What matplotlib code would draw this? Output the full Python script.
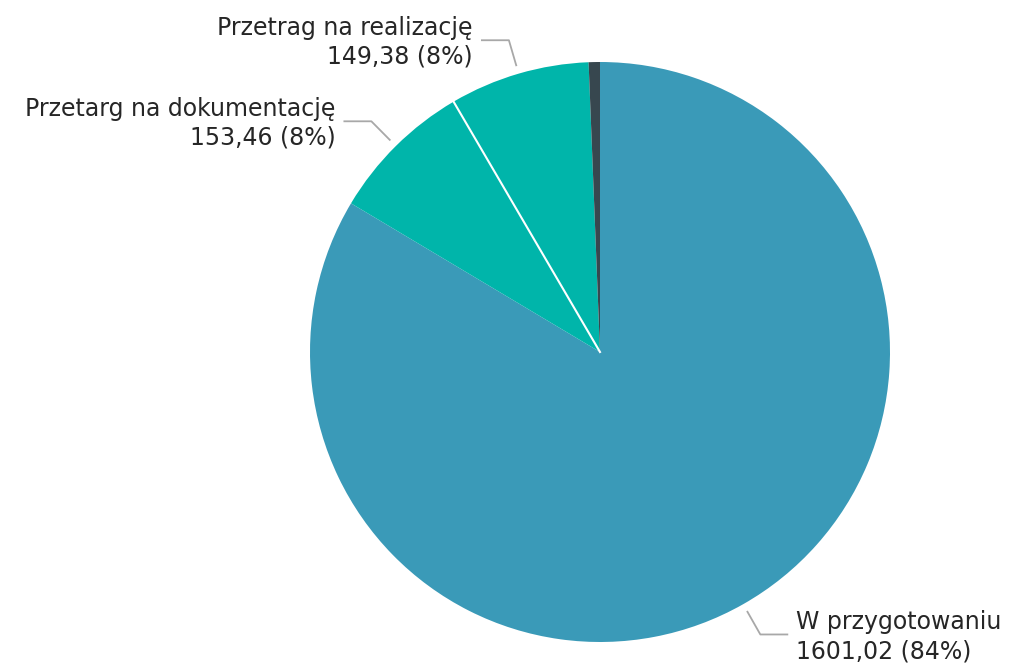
import numpy as np
import matplotlib.pyplot as plt

labels = ["W przygotowaniu", "Przetarg na dokumentację", "Przetrag na realizację", ""]
values = [1601.02, 153.46, 149.38, 12.0]
colors = ["#3a9ab8", "#00b5aa", "#00b5aa", "#37474f"]

fig = plt.figure(figsize=(10.15, 6.66), dpi=100)
ax = fig.add_axes([0, 0, 1, 1])

cx, cy, r = 600, 314, 290
wedges, _ = ax.pie(values, colors=colors, startangle=90, counterclock=False,
                   center=(cx, cy), radius=r, frame=True,
                   wedgeprops=dict(linewidth=0))
ax.set_xlim(0, 1015)
ax.set_ylim(0, 666)
ax.set_aspect("equal")
ax.axis("off")

# white separator between the two teal slices
t = np.deg2rad(wedges[1].theta1)
ax.plot([cx, cx + r * np.cos(t)], [cy, cy + r * np.sin(t)], color="white", lw=1.5)

total = sum(values)
for w, lab, v in zip(wedges, labels, values):
    if not lab:
        continue
    ang = np.deg2rad((w.theta1 + w.theta2) / 2)
    x0, y0 = cx + r * 1.03 * np.cos(ang), cy + r * 1.03 * np.sin(ang)
    x1, y1 = cx + r * 1.12 * np.cos(ang), cy + r * 1.12 * np.sin(ang)
    side = 1 if np.cos(ang) > 0 else -1
    x2 = x1 + side * 27
    ax.plot([x0, x1, x2], [y0, y1, y1], color="#a8a8a8", lw=1.3)
    txt = f"{lab}\n{v:.2f}".replace(".", ",") + f" ({v / total * 100:.0f}%)"
    ax.text(x2 + side * 9, y1 - 2, txt, ha="left" if side > 0 else "right",
            va="center", fontsize=17, color="#262626", linespacing=1.28,
            multialignment="left" if side > 0 else "right")

fig.savefig("out.png", dpi=100)
